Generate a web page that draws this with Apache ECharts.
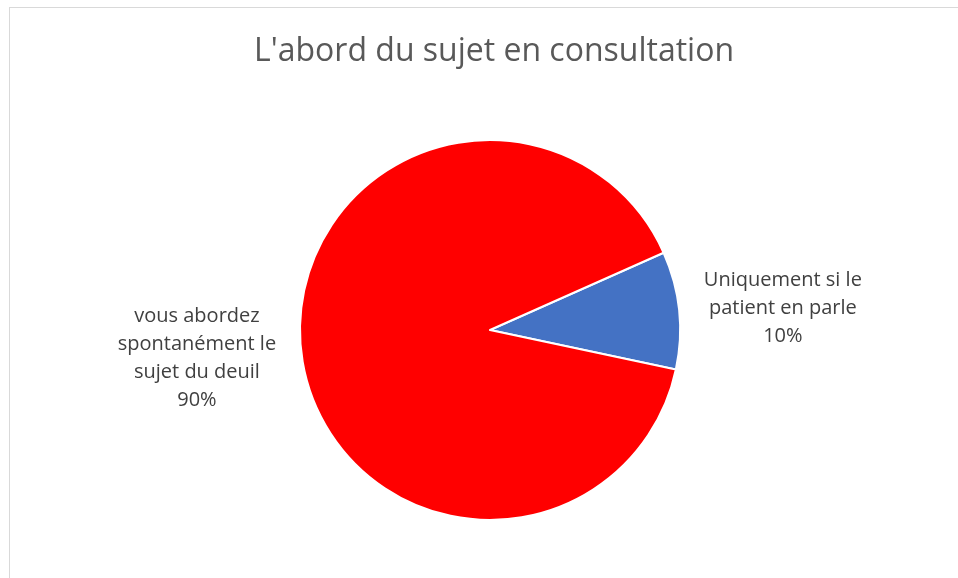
<!DOCTYPE html>
<html>
<head>
<meta charset="utf-8">
<script src="https://cdn.jsdelivr.net/npm/echarts@6/dist/echarts.min.js"></script>
<style>
    html, body { margin: 0; padding: 0; background: #fff; }
    #frame {
        position: absolute; left: 9px; top: 7px; width: 960px; height: 580px;
        border-top: 1px solid #d9d9d9; border-left: 1px solid #d9d9d9;
    }
    #chart { position: absolute; left: 0; top: 0; width: 958px; height: 578px; }
</style>
</head>
<body>
<div id="frame"></div>
<div id="chart"></div>
<script>
const titleText = "L'abord du sujet en consultation";
const categories = ["Uniquement si le\npatient en parle", "vous abordez\nspontanément le\nsujet du deuil"];
const values = [10, 90];
const colors = ["#4472C4", "#FF0000"];

const myChart = echarts.init(document.getElementById("chart"));

const option = {
    animation: false,
    title: {
        text: titleText,
        left: 249,
        top: 31,
        textStyle: {
            fontFamily: "Open Sans",
            fontSize: 32,
            fontWeight: "normal",
            color: "#595959",
        },
    },
    series: [
        {
            type: "pie",
            center: [490, 330],
            radius: 190,
            startAngle: 24,
            clockwise: true,
            avoidLabelOverlap: false,
            itemStyle: {
                borderColor: "#fff",
                borderWidth: 2,
            },
            label: {
                show: true,
                position: "outside",
                formatter: (p) => p.name + "\n" + p.percent.toFixed(0) + "%",
                fontFamily: "Open Sans",
                fontSize: 20,
                lineHeight: 28,
                color: "#404040",
            },
            labelLine: { show: false, length: 20, length2: 0 },
            labelLayout: (params) => {
                const r = params.labelRect;
                return {
                    x: r.x + r.width / 2,
                    y: r.y + r.height / 2 + (params.dataIndex === 1 ? 6 : 0),
                    align: "center",
                    verticalAlign: "middle",
                };
            },
            data: categories.map((name, i) => ({
                name: name,
                value: values[i],
                itemStyle: { color: colors[i] },
            })),
        },
    ],
};

option && myChart.setOption(option);
</script>
</body>
</html>
